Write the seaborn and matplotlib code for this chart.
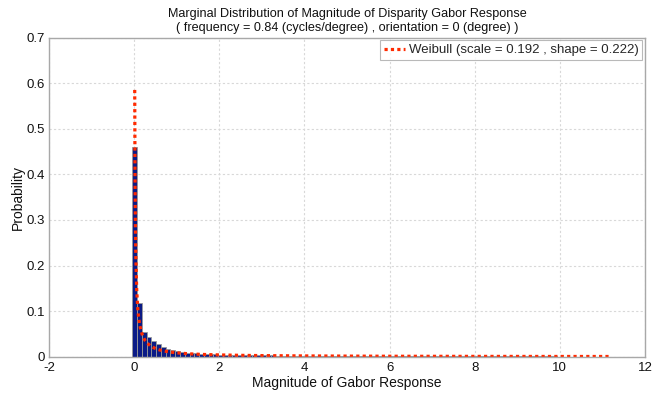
import numpy as np
import pandas as pd
import matplotlib
matplotlib.use("Agg")
import matplotlib.pyplot as plt
from matplotlib import font_manager
import seaborn as sns

# ---------------- data ----------------
bin_start = 0.013      # first bin center
bin_width = 0.112
bar_probs = [
    0.460, 0.118, 0.054, 0.043, 0.034, 0.027, 0.021, 0.017, 0.014, 0.012,
    0.0102, 0.0090, 0.0080, 0.0072, 0.0065, 0.0059, 0.0054, 0.0050, 0.0046, 0.0043,
    0.0040, 0.0038, 0.0036, 0.0034, 0.0032, 0.0031, 0.0030, 0.0029, 0.0028, 0.0027,
    0.0026, 0.0025, 0.0024, 0.0023, 0.0022, 0.0021, 0.0021, 0.0020, 0.0019, 0.0019,
    0.0018, 0.0018, 0.0017, 0.0017, 0.0016, 0.0016, 0.0015, 0.0015, 0.0014, 0.0014,
    0.0014, 0.0013, 0.0013, 0.0013, 0.0012, 0.0012, 0.0012, 0.0011, 0.0011, 0.0011,
    0.0010, 0.0010, 0.0010, 0.0010, 0.0009, 0.0009, 0.0009, 0.0009, 0.0008, 0.0008,
    0.0008, 0.0008, 0.0007, 0.0007, 0.0007, 0.0007, 0.0007, 0.0006, 0.0006, 0.0006,
    0.0006, 0.0006, 0.0006, 0.0005, 0.0005, 0.0005, 0.0005, 0.0005, 0.0005, 0.0004,
    0.0004, 0.0004, 0.0004, 0.0004, 0.0004, 0.0004, 0.0003, 0.0003, 0.0003, 0.0003,
]

weibull_x = [0.0135, 0.02, 0.03, 0.04, 0.06, 0.08, 0.10, 0.13, 0.16, 0.20,
             0.25, 0.30, 0.40, 0.50, 0.60, 0.80, 1.0, 1.3, 1.6, 2.0,
             2.5, 3.0, 4.0, 5.0, 6.0, 7.0, 8.0, 9.0, 10.0, 11.2]
weibull_y = [0.585, 0.410, 0.283, 0.217, 0.148, 0.112, 0.0906, 0.0701, 0.0571, 0.0457,
             0.0365, 0.0303, 0.0226, 0.0179, 0.0147, 0.0108, 0.0085, 0.0063, 0.0050, 0.0039,
             0.0030, 0.0024, 0.0017, 0.0013, 0.0010, 0.00086, 0.00072, 0.00062, 0.00054, 0.00046]

legend_label = "Weibull (scale = 0.192 , shape = 0.222)"
title_text = ("Marginal Distribution of Magnitude of Disparity Gabor Response\n"
              "( frequency = 0.84 (cycles/degree) , orientation = 0 (degree) )")
xlabel_text = "Magnitude of Gabor Response"
ylabel_text = "Probability"
xticks = [-2, 0, 2, 4, 6, 8, 10, 12]
yticks = [0, 0.1, 0.2, 0.3, 0.4, 0.5, 0.6, 0.7]
ytick_labels = ["0", "0.1", "0.2", "0.3", "0.4", "0.5", "0.6", "0.7"]

# ---------------- plot ----------------
sns.set_theme(style="white")
plt.rcParams["font.family"] = ["Liberation Sans", "DejaVu Sans"]

installed = {f.name for f in font_manager.fontManager.ttflist}
if "Liberation Sans Narrow" in installed:
    title_family, title_size = ["Liberation Sans Narrow", "DejaVu Sans"], 10.8
else:
    title_family, title_size = ["Liberation Sans", "DejaVu Sans"], 9.1

n = len(bar_probs)
centers = bin_start + bin_width * np.arange(n)
lo = float(centers[0] - bin_width / 2)
hi = float(centers[-1] + bin_width / 2)
df_bars = pd.DataFrame({"x": centers, "p": bar_probs})
df_line = pd.DataFrame({"x": weibull_x, "y": weibull_y})

fig = plt.figure(figsize=(6.72, 3.95), dpi=100)
ax = fig.add_axes([49 / 672, 1 - 356.7 / 395, (645 - 49) / 672, (356.7 - 37.5) / 395])

sns.histplot(data=df_bars, x="x", weights="p", binwidth=bin_width, binrange=(lo, hi),
             stat="count", color="#0b1b86", alpha=1.0, edgecolor="#9a9a9a",
             linewidth=0.6, ax=ax, legend=False)
sns.lineplot(data=df_line, x="x", y="y", ax=ax, color="#ff2a00",
             linestyle=(0, (1, 1)), linewidth=2.3, label=legend_label)

ax.set_xlim(-2, 12)
ax.set_ylim(0, 0.7)
ax.set_xticks(xticks)
ax.set_xticklabels([str(t) for t in xticks])
ax.set_yticks(yticks)
ax.set_yticklabels(ytick_labels)
ax.grid(True, color="#d8d8d8", linestyle=(0, (2, 2)), linewidth=0.8)
ax.set_axisbelow(True)
for s in ax.spines.values():
    s.set_color("#a8a8a8")
    s.set_linewidth(1.0)
ax.tick_params(axis="both", direction="in", length=3, color="#a8a8a8",
               labelsize=9.5, labelcolor="#111111")
ax.tick_params(axis="x", pad=4)
ax.tick_params(axis="y", pad=3)

ax.set_title(title_text, fontsize=title_size, family=title_family,
             color="#111111", pad=5, linespacing=1.15)
ax.set_xlabel(xlabel_text, fontsize=10, color="#111111", labelpad=1)
ax.set_ylabel(ylabel_text, fontsize=10, color="#111111", labelpad=1)

leg = ax.legend(loc="upper right", fontsize=9.5, frameon=True, fancybox=False,
                borderaxespad=0.2, handlelength=1.6, handletextpad=0.3,
                borderpad=0.3)
leg.get_frame().set_edgecolor("#a8a8a8")
leg.get_frame().set_linewidth(0.8)

fig.savefig("out.png", dpi=100)
